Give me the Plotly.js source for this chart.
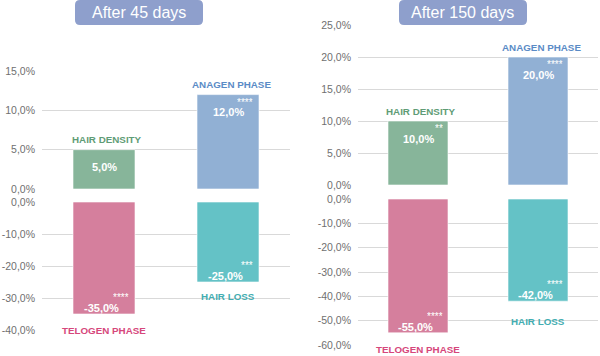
<!DOCTYPE html>
<html>
<head>
<meta charset="utf-8">
<script src="https://cdn.plot.ly/plotly-3.0.1.min.js"></script>
<style>html,body{margin:0;padding:0;background:#fff}#chart{width:600px;height:356px}</style>
</head>
<body>
<div id="chart"></div>
<script>
// ---- data ----
const panelTitles = ['After 45 days', 'After 150 days'];
const posCats = ['HAIR DENSITY', 'ANAGEN PHASE'];
const negCats = ['TELOGEN PHASE', 'HAIR LOSS'];
const pos45 = [5, 12];
const neg45 = [-35, -25];
const pos150 = [10, 20];
const neg150 = [-55, -42];
const sig45Pos = ['', '****'];
const sig45Neg = ['****', '***'];
const sig150Pos = ['**', '****'];
const sig150Neg = ['****', '****'];
const ticks45Pos = [0, 5, 10, 15];
const ticks45Neg = [0, -10, -20, -30, -40];
const ticks150Pos = [0, 5, 10, 15, 20, 25];
const ticks150Neg = [0, -10, -20, -30, -40, -50, -60];

const posColors = ['#87b59a', '#91b0d4'];
const negColors = ['#d57f9d', '#64c2c6'];
const posLabelColors = ['#5f9c76', '#5a8bc6'];
const negLabelColors = ['#d6477b', '#43adb1'];

const fmt = v => (v < 0 ? '-' : '') + Math.abs(v).toFixed(1).replace('.', ',') + '%';

function bar(cats, vals, colors, xa, ya) {
  return {
    type: 'bar', x: [0, 1], y: vals, xaxis: xa, yaxis: ya, width: 0.5,
    marker: { color: colors, line: { color: 'rgba(255,255,255,0.6)', width: 1 } },
    hoverinfo: 'skip'
  };
}

const data = [
  bar(posCats, pos45, posColors, 'x', 'y'),
  bar(negCats, neg45, negColors, 'x2', 'y2'),
  bar(posCats, pos150, posColors, 'x3', 'y3'),
  bar(negCats, neg150, negColors, 'x4', 'y4')
];

function yax(domain, range, ticks, anchor) {
  return {
    domain: domain, range: range, anchor: anchor,
    tickmode: 'array', tickvals: ticks, ticktext: ticks.map(fmt),
    tickfont: { family: 'Liberation Sans, Arial, sans-serif', size: 10.5, color: '#707070' },
    gridcolor: '#d9d9d9', gridwidth: 1, zeroline: false, showline: false,
    ticks: '', ticklabelstandoff: 6, fixedrange: true
  };
}
function xax(domain, anchor) {
  return { domain: domain, range: [-0.5, 1.5], anchor: anchor, showticklabels: false,
    showgrid: false, zeroline: false, showline: false, ticks: '', fixedrange: true };
}

const annotations = [];
const lblFont = { family: 'Liberation Sans, Arial, sans-serif', size: 11, color: '#ffffff', weight: 'bold' };
const catFont = (c) => ({ family: 'Liberation Sans, Arial, sans-serif', size: 9.8, color: c, weight: 'bold' });
const sigFont = { family: 'Liberation Sans, Arial, sans-serif', size: 10, color: '#ffffff' };

function sigAnn(xa, ya, i, v, txt, yshift) {
  return { xref: xa, yref: ya, x: i, y: v, yshift: yshift, xshift: 26, xanchor: 'right', yanchor: 'top',
    height: 6, valign: 'top', borderpad: 0, text: txt, showarrow: false, font: sigFont };
}
function addPos(vals, cats, sigs, xa, ya) {
  vals.forEach((v, i) => {
    annotations.push({ xref: xa, yref: ya, x: i, y: v, yshift: -17.5, text: '<b>' + fmt(v) + '</b>', showarrow: false, font: lblFont });
    annotations.push({ xref: xa, yref: ya, x: i, y: v, yshift: 10, xshift: 3, text: '<b>' + cats[i] + '</b>', showarrow: false, font: catFont(posLabelColors[i]) });
    if (sigs[i]) annotations.push(sigAnn(xa, ya, i, v, sigs[i], -1));
  });
}
function addNeg(vals, cats, sigs, xa, ya, catShifts) {
  vals.forEach((v, i) => {
    annotations.push({ xref: xa, yref: ya, x: i, y: v, yshift: 6, xshift: -3, text: '<b>' + fmt(v) + '</b>', showarrow: false, font: lblFont });
    annotations.push({ xref: xa, yref: ya, x: i, y: v, yshift: -catShifts[i], text: '<b>' + cats[i] + '</b>', showarrow: false, font: catFont(negLabelColors[i]) });
    if (sigs[i]) annotations.push(sigAnn(xa, ya, i, v, sigs[i], 23));
  });
}
addPos(pos45, posCats, sig45Pos, 'x', 'y');
addNeg(neg45, negCats, sig45Neg, 'x2', 'y2', [16, 14]);
addPos(pos150, posCats, sig150Pos, 'x3', 'y3');
addNeg(neg150, negCats, sig150Neg, 'x4', 'y4', [17, 20]);

// title boxes
function roundRect(x0, y0, x1, y1, r) {
  const W = 600, H = 356;
  const px = x => (x / W).toFixed(5), py = y => (1 - y / H).toFixed(5);
  return 'M' + px(x0 + r) + ',' + py(y0) + ' L' + px(x1 - r) + ',' + py(y0) +
    ' Q' + px(x1) + ',' + py(y0) + ' ' + px(x1) + ',' + py(y0 + r) +
    ' L' + px(x1) + ',' + py(y1 - r) + ' Q' + px(x1) + ',' + py(y1) + ' ' + px(x1 - r) + ',' + py(y1) +
    ' L' + px(x0 + r) + ',' + py(y1) + ' Q' + px(x0) + ',' + py(y1) + ' ' + px(x0) + ',' + py(y1 - r) +
    ' L' + px(x0) + ',' + py(y0 + r) + ' Q' + px(x0) + ',' + py(y0) + ' ' + px(x0 + r) + ',' + py(y0) + ' Z';
}
const shapes = [
  { type: 'path', xref: 'paper', yref: 'paper', path: roundRect(75, 0, 203, 25, 5), fillcolor: '#8e9fcc', line: { width: 0 } },
  { type: 'path', xref: 'paper', yref: 'paper', path: roundRect(399, 0, 527, 25, 5), fillcolor: '#8e9fcc', line: { width: 0 } }
];
const titleFont = { family: 'Liberation Sans, Arial, sans-serif', size: 16, color: '#ffffff' };
annotations.push({ xref: 'paper', yref: 'paper', x: 139 / 600, y: 1 - 12.5 / 356, text: panelTitles[0], showarrow: false, font: titleFont, xanchor: 'center', yanchor: 'middle' });
annotations.push({ xref: 'paper', yref: 'paper', x: 463 / 600, y: 1 - 12.5 / 356, text: panelTitles[1], showarrow: false, font: titleFont, xanchor: 'center', yanchor: 'middle' });

const layout = {
  width: 600, height: 356, margin: { l: 0, r: 0, t: 0, b: 0 },
  paper_bgcolor: '#ffffff', plot_bgcolor: 'rgba(0,0,0,0)',
  showlegend: false, hovermode: false, bargap: 0,
  xaxis: xax([42 / 600, 290 / 600], 'y'),
  yaxis: yax([1 - 189 / 356, 1 - 71 / 356], [0, 15], ticks45Pos, 'x'),
  xaxis2: xax([42 / 600, 290 / 600], 'y2'),
  yaxis2: yax([1 - 330 / 356, 1 - 202 / 356], [-40, 0], ticks45Neg, 'x2'),
  xaxis3: xax([358 / 600, 598 / 600], 'y3'),
  yaxis3: yax([1 - 185 / 356, 1 - 25 / 356], [0, 25], ticks150Pos, 'x3'),
  xaxis4: xax([358 / 600, 598 / 600], 'y4'),
  yaxis4: yax([1 - 345 / 356, 1 - 199 / 356], [-60, 0], ticks150Neg, 'x4'),
  annotations: annotations, shapes: shapes
};
Plotly.newPlot('chart', data, layout, { displayModeBar: false, staticPlot: true });
</script>
</body>
</html>
